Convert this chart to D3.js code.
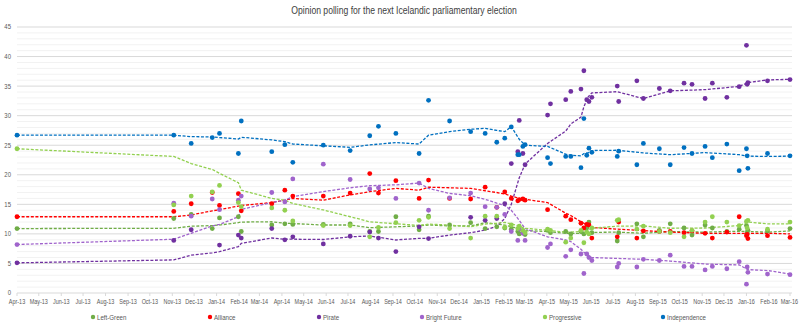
<!DOCTYPE html>
<html>
<head>
<meta charset="utf-8">
<script src="https://cdn.jsdelivr.net/npm/d3@7"></script>
<style>
  body { margin: 0; background: #fff; }
  svg { display: block; }
  text { font-family: "Liberation Sans", Arial, sans-serif; }
</style>
</head>
<body>
<svg id="chart" width="800" height="327"></svg>
<script>
// poll dates (first one is the 2013 election result)
const pollDates = [
  "2013-04-27", "2013-11-29", "2013-12-23", "2014-01-21", "2014-01-31", "2014-02-26", "2014-03-02",
  "2014-04-13", "2014-05-01", "2014-05-12", "2014-06-23", "2014-07-30", "2014-08-26", "2014-09-07",
  "2014-10-01", "2014-11-02", "2014-11-15", "2014-12-14", "2015-01-12", "2015-02-01", "2015-02-17",
  "2015-02-28", "2015-03-09", "2015-03-18", "2015-03-20", "2015-03-25", "2015-03-28", "2015-04-28",
  "2015-05-02", "2015-05-23", "2015-05-30", "2015-06-13", "2015-06-17", "2015-06-21", "2015-06-24",
  "2015-06-28", "2015-08-02", "2015-08-04", "2015-08-29", "2015-09-07", "2015-09-29", "2015-10-14",
  "2015-11-02", "2015-11-13", "2015-12-01", "2015-12-11", "2015-12-31", "2016-01-17", "2016-01-27",
  "2016-01-28", "2016-01-29", "2016-02-25", "2016-03-27"
];

const independence = [26.7, 26.7, 25.3, 26.3, 27.0, 23.6, 29.1, 23.9, 25.1, 22.1, 25.0, 24.1, 26.6, 28.2,
  27.0, 23.6, 32.6, 29.1, 27.3, 27.0, 25.5, 26.2, 28.1, 23.4, 23.4, 24.8, 25.1, 22.9, 21.9, 23.1, 23.1,
  21.2, 29.5, 23.3, 24.5, 23.8, 23.1, 24.0, 21.7, 25.3, 24.4, 21.7, 24.6, 23.6, 24.8, 22.9, 25.2, 20.7,
  24.4, 23.2, 21.1, 23.6, 23.2];
const progressive = [24.4, 14.9, 16.4, 17.1, 18.2, 15.3, 14.6, 14.4, 14.0, 12.2, 11.4, 11.4, 9.5, 11.1,
  11.9, 12.3, 12.8, 10.9, 9.3, 13.0, 13.0, 11.1, 11.5, 10.9, 11.3, 10.6, 10.2, 10.8, 10.6, 8.6, 9.3,
  10.6, 8.5, 10.3, 10.0, 11.0, 12.3, 12.4, 10.8, 11.3, 10.4, 10.2, 9.5, 10.6, 12.0, 12.9, 12.0, 11.4,
  12.1, 11.0, 12.3, 10.8, 12.0];
const leftGreen = [10.9, 12.6, 13.3, 10.9, 12.7, 12.9, 10.4, 11.5, 11.7, 11.6, 11.6, 11.7, 10.4, 10.4,
  12.9, 10.7, 13.0, 11.5, 11.9, 10.9, 11.2, 11.0, 10.8, 10.4, 10.0, 10.5, 9.9, 10.6, 10.2, 10.4, 10.0,
  10.4, 10.0, 11.0, 12.0, 10.2, 8.8, 10.2, 11.7, 9.5, 10.6, 11.7, 11.0, 9.8, 11.5, 11.0, 10.4, 10.8,
  11.4, 10.2, 10.6, 10.5, 10.9];
const alliance = [12.9, 13.8, 15.1, 17.0, 14.8, 16.8, 13.9, 15.1, 17.4, 16.4, 16.4, 16.9, 20.2, 16.9,
  19.0, 16.0, 19.1, 16.0, 15.9, 17.9, 14.5, 17.1, 16.0, 15.6, 15.8, 15.9, 15.7, 14.1, null, 13.0, 12.4,
  11.8, 11.0, 11.6, 11.5, 9.3, 9.5, 12.0, 9.3, 10.5, 10.4, 10.4, 10.2, 10.5, 10.1, 9.3, 10.3, 12.9,
  9.7, 9.9, 9.2, 9.7, 9.4];
const brightFuture = [8.2, 15.2, 13.0, 15.9, 14.1, 15.7, 16.4, 17.0, 15.4, 19.3, 21.8, 19.2, 17.6, 17.8,
  16.0, 18.6, 14.0, 16.1, 16.9, 14.6, 14.5, 13.3, 10.4, 8.9, 10.8, 10.1, 8.9, 7.7, 8.3, 6.2, 7.3,
  6.6, 3.3, 6.6, 6.0, 5.5, 4.4, 5.0, 4.4, 5.7, 5.5, 6.4, 4.5, 4.5, 3.9, 4.5, 4.1, 5.3,
  1.5, 4.4, 3.5, 3.2, 3.1];
const pirate = [5.1, 8.9, 10.7, null, 8.1, 9.8, 9.3, 10.9, 9.0, 9.5, 8.3, 9.6, 10.3, 9.3,
  7.0, 11.2, 9.2, null, 12.8, 12.3, 12.6, 15.1, 21.9, 23.9, 29.2, 23.6, 21.7, 30.1, 32.0, 32.7, 34.1,
  34.5, 37.6, 32.7, 32.4, 33.1, 35.0, 32.4, 35.9, 32.9, 34.6, 34.2, 35.5, 35.3, 32.9, 35.5, 33.1, 34.9,
  41.9, 35.3, 35.6, 35.9, 36.1];

// dashed trend lines
const trendDates = [
  "2013-04-27", "2013-11-29", "2013-12-23", "2014-01-21", "2014-01-31", "2014-02-26", "2014-03-02",
  "2014-04-13", "2014-05-01", "2014-05-12", "2014-06-23", "2014-07-30", "2014-08-26", "2014-10-01",
  "2014-11-02", "2014-11-15", "2014-12-14", "2015-01-12", "2015-02-01", "2015-02-17", "2015-02-28",
  "2015-03-09", "2015-03-20", "2015-03-28", "2015-04-28", "2015-05-23", "2015-05-30", "2015-06-13",
  "2015-06-17", "2015-06-23", "2015-06-28", "2015-08-02", "2015-09-07", "2015-10-14", "2015-12-01",
  "2016-01-17", "2016-01-29", "2016-02-25", "2016-03-27"
];
const independenceTrend = [26.7, 26.7, 26.45, 26.4, 26.3, 26.05, 26.35, 25.9, 25.6, 25.2, 24.9, 24.65, 25.05,
  25.45, 25.2, 26.7, 27.3, 27.7, 27.85, 27.5, 27.3, 28.15, 26.0, 25.0, 24.8, 23.5, 23.3, 23.2, 23.6,
  23.75, 24.1, 24.15, 23.7, 23.4, 23.75, 23.4, 23.15, 23.1, 23.15];
const progressiveTrend = [24.4, 23.1, 21.9, 20.9, 20.25, 18.65, 17.4, 16.0, 15.7, 15.15, 14.05, 12.9, 12.05,
  11.7, 11.45, 11.65, 11.5, 11.2, 11.65, 11.8, 11.95, 11.7, 11.3, 10.95, 10.6, 10.3, 10.3, 10.4, 10.5,
  10.7, 10.95, 11.3, 11.35, 10.95, 11.0, 11.4, 12.0, 11.7, 11.7];
const leftGreenTrend = [10.9, 10.95, 11.3, 11.4, 11.5, 11.9, 12.0, 12.05, 11.8, 11.75, 11.5, 11.5, 11.05,
  11.2, 11.35, 11.5, 11.35, 11.35, 11.9, 11.65, 11.5, 11.2, 10.9, 10.55, 10.4, 10.1, 10.1, 10.1, 10.15,
  10.2, 10.25, 10.3, 10.1, 10.4, 10.3, 10.45, 10.4, 10.3, 10.5];
const allianceTrend = [12.9, 12.9, 13.2, 13.9, 14.1, 14.7, 14.8, 15.3, 15.7, 16.0, 15.7, 16.6, 17.15,
  17.7, 17.4, 17.9, 17.8, 17.7, 17.3, 17.0, 16.75, 16.4, 16.0, 15.85, 15.3, 13.5, 13.1, 12.05, 11.8,
  11.4, 11.1, 10.8, 10.55, 10.3, 10.1, 10.1, 10.1, 10.1, 10.0];
const brightFutureTrend = [8.2, 9.1, 10.1, 11.35, 11.6, 12.9, 14.15, 15.3, 15.7, 16.3, 17.15, 17.8, 18.15,
  18.3, 18.6, 17.7, 16.85, 16.45, 15.85, 15.2, 14.8, 14.0, 12.3, 10.9, 9.5, 8.97, 8.7, 7.4, 6.9,
  6.4, 6.0, 5.85, 5.7, 5.4, 4.9, 4.75, 3.95, 3.8, 3.2];
const pirateTrend = [5.1, 5.6, 6.4, 6.8, 7.0, 7.85, 8.4, 9.3, 9.1, 9.1, 9.05, 9.5, 9.65,
  8.97, 9.25, 9.25, 9.8, 10.2, 10.65, 11.3, 12.6, 15.0, 19.5, 21.8, 25.3, 27.4, 28.6, 29.75, 31.5,
  33.2, 33.85, 34.05, 32.9, 34.2, 34.4, 34.95, 35.6, 36.05, 36.15];

const parse = d3.timeParse("%Y-%m-%d");
const fmt = d3.timeFormat("%b-%y");

const series = [
  { name: "Left-Green", color: "#70ad47", values: leftGreen, trend: leftGreenTrend },
  { name: "Alliance", color: "#ff0000", values: alliance, trend: allianceTrend },
  { name: "Pirate", color: "#7030a0", values: pirate, trend: pirateTrend },
  { name: "Bright Future", color: "#a064cc", values: brightFuture, trend: brightFutureTrend },
  { name: "Progressive", color: "#92d050", values: progressive, trend: progressiveTrend },
  { name: "Independence", color: "#0070c0", values: independence, trend: independenceTrend }
];

const svg = d3.select("#chart");
const start = parse("2013-04-27");
const end = parse("2016-03-27");

const x = d3.scaleTime().domain([start, end]).range([17, 790]);
const y = d3.scaleLinear().domain([0, 45]).range([293, 27]);

// squeeze text horizontally, the original font is a narrow one
function narrow(sel, k) {
  sel.each(function () {
    const w = this.getComputedTextLength();
    d3.select(this).attr("textLength", w * k).attr("lengthAdjust", "spacingAndGlyphs");
  });
}

// gridlines: minor every 1, major every 5
const grid = svg.append("g");
grid.selectAll("line.minor")
  .data(d3.range(0, 46).filter(v => v % 5 !== 0))
  .enter().append("line")
  .attr("x1", 17).attr("x2", 792)
  .attr("y1", d => y(d)).attr("y2", d => y(d))
  .attr("stroke", "#f2f2f2").attr("stroke-width", 1);
grid.selectAll("line.major")
  .data(d3.range(0, 46, 5))
  .enter().append("line")
  .attr("x1", 17).attr("x2", 792)
  .attr("y1", d => y(d)).attr("y2", d => y(d))
  .attr("stroke", "#d9d9d9").attr("stroke-width", 1);

// y labels
svg.append("g").selectAll("text")
  .data(d3.range(0, 46, 5))
  .enter().append("text")
  .attr("x", 11).attr("y", d => y(d)).attr("dy", "0.35em")
  .attr("text-anchor", "end")
  .attr("font-size", 7).attr("fill", "#595959")
  .text(d => d)
  .call(narrow, 0.85);

// x ticks and labels
const months = d3.range(0, 36).map(i => d3.timeMonth.offset(start, i));
const xa = svg.append("g");
xa.selectAll("line")
  .data(months)
  .enter().append("line")
  .attr("x1", d => x(d)).attr("x2", d => x(d))
  .attr("y1", 293).attr("y2", 296)
  .attr("stroke", "#d9d9d9");
xa.selectAll("text")
  .data(months)
  .enter().append("text")
  .attr("x", (d, i) => i === months.length - 1 ? 798 : x(d))
  .attr("y", 302).attr("dy", "0.35em")
  .attr("text-anchor", (d, i) => i === months.length - 1 ? "end" : "middle")
  .attr("font-size", 7).attr("fill", "#595959")
  .text(d => fmt(d))
  .call(narrow, 0.78);

// trend lines
const line = d3.line()
  .defined(d => d[1] != null)
  .x(d => x(d[0])).y(d => y(d[1]));

svg.append("g").selectAll("path")
  .data(series)
  .enter().append("path")
  .attr("d", s => line(trendDates.map((t, i) => [parse(t), s.trend[i]])))
  .attr("fill", "none")
  .attr("stroke", s => s.color)
  .attr("stroke-width", 1.3)
  .attr("stroke-dasharray", "3,1.6");

// poll points
series.forEach(s => {
  svg.append("g").selectAll("circle")
    .data(pollDates.map((t, i) => [parse(t), s.values[i]]).filter(d => d[1] != null))
    .enter().append("circle")
    .attr("cx", d => x(d[0])).attr("cy", d => y(d[1]))
    .attr("r", 2.4)
    .attr("fill", s.color);
});

// title
svg.append("text")
  .attr("x", 404).attr("y", 14)
  .attr("text-anchor", "middle")
  .attr("font-size", 10.5).attr("fill", "#404040")
  .text("Opinion polling for the next Icelandic parliamentary election")
  .call(narrow, 0.82);

// legend
const legendX = [93, 210, 319, 422, 545, 663];
const lg = svg.append("g").selectAll("g")
  .data(series)
  .enter().append("g")
  .attr("transform", (s, i) => `translate(${legendX[i]},317)`);
lg.append("circle").attr("r", 2.2).attr("fill", s => s.color);
lg.append("text")
  .attr("x", 4).attr("dy", "0.35em")
  .attr("font-size", 7.5).attr("fill", "#595959")
  .text(s => s.name)
  .call(narrow, 0.82);
</script>
</body>
</html>
